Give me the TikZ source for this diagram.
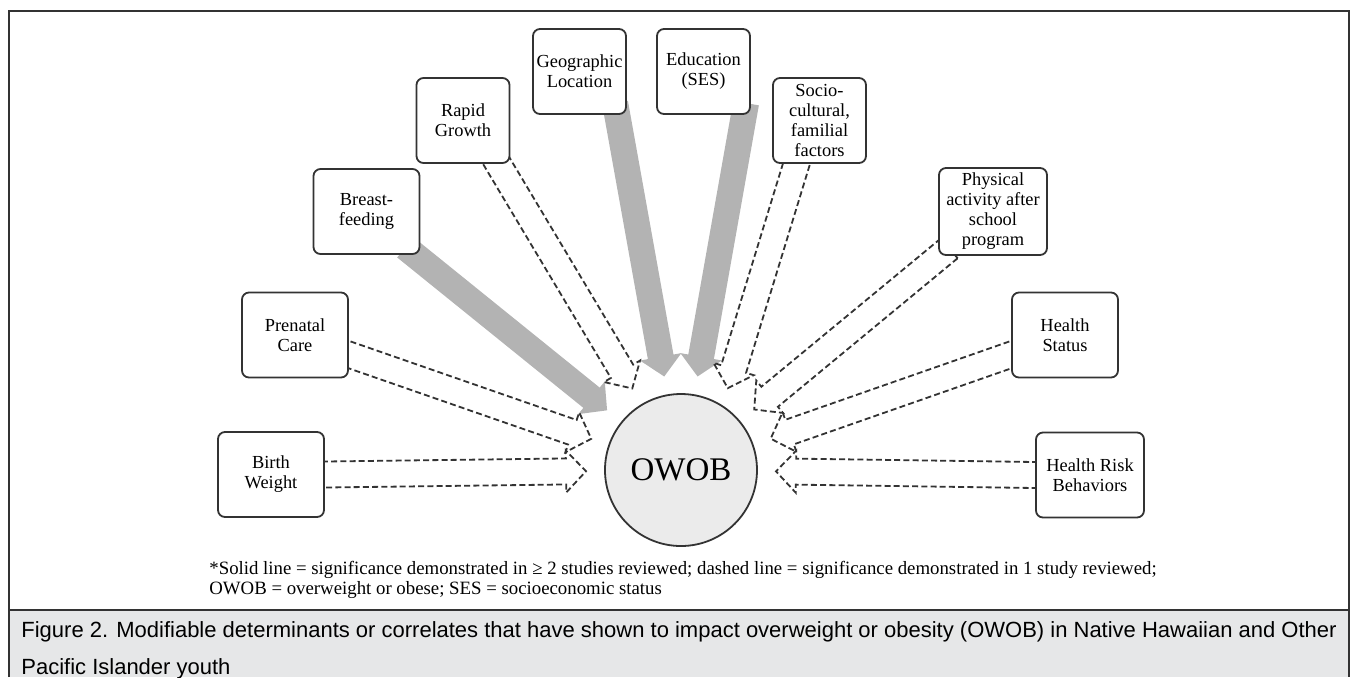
\documentclass[tikz,border=0pt]{standalone}
\usepackage{fontspec}
\setmainfont{Liberation Serif}
\newfontfamily\captionfont{Liberation Sans}
\usetikzlibrary{calc,backgrounds}
\definecolor{linegray}{HTML}{333333}
\definecolor{arrowgray}{HTML}{B3B3B3}
\definecolor{owobfill}{HTML}{EBEBEB}
\definecolor{capfill}{HTML}{E6E7E8}
\newcommand{\owobarrow}[3][dasharrow]{%
  \coordinate (s) at (#2);
  \coordinate (t) at ($(#3)!47.5pt!(s)$);
  \coordinate (o) at ($(s)!-6pt!(t)$);
  \coordinate (b) at ($(t)!10pt!(o)$);
  \path[#1] ($(o)!6.5pt!90:(t)$) -- ($(b)!6.5pt!90:(t)$) -- ($(b)!10.5pt!90:(t)$) -- (t)
    -- ($(b)!10.5pt!-90:(t)$) -- ($(b)!6.5pt!-90:(t)$) -- ($(o)!6.5pt!-90:(t)$) -- cycle;
}

\begin{document}
\begin{tikzpicture}[x=0.5pt, y=-0.5pt,
    factor/.style={draw=linegray, line width=0.9pt, rounded corners=3.5pt, fill=white, align=center,
      minimum width=53pt, minimum height=42.5pt, inner sep=1pt, font=\fontsize{9.2}{10}\selectfont},
    narrowfactor/.style={factor, minimum width=46.5pt},
    outcome/.style={circle, draw=linegray, line width=0.9pt, fill=owobfill, minimum size=76pt,
      inner sep=0pt, font=\fontsize{16.5}{18}\selectfont},
    dasharrow/.style={draw=linegray, line width=0.9pt, dash pattern=on 3pt off 1.6pt},
    solidarrow/.style={fill=arrowgray}]
  \useasboundingbox (0,0) rectangle (1351,677);
  \fill[capfill] (9,610) rectangle (1349,677);
  \draw[linegray, line width=1.2pt] (9,677) -- (9,11) -- (1349,11) -- (1349,677);
  \draw[linegray, line width=1.2pt] (9,610) -- (1349,610);

  \node[outcome] (owob) at (681,470) {OWOB};
  \node[factor] (birth) at (271,474.5) {Birth\\Weight};
  \node[factor] (prenatal) at (295,335) {Prenatal\\Care};
  \node[factor] (breast) at (366.5,211.5) {Breast-\\feeding};
  \node[narrowfactor] (rapid) at (463,120.5) {Rapid\\Growth};
  \node[narrowfactor] (geo) at (579.5,71.5) {Geographic\\Location};
  \node[narrowfactor] (edu) at (703.5,71.5) {Education\\(SES)};
  \node[narrowfactor] (socio) at (819.5,120.5) {Socio-\\cultural,\\familial\\factors};
  \node[factor, minimum width=54pt, minimum height=43.5pt] (phys) at (993,211.5) {Physical\\activity after\\school\\program};
  \node[factor] (hstatus) at (1065,335) {Health\\Status};
  \node[factor, minimum width=54pt] (hrisk) at (1090,475) {Health Risk\\Behaviors};
  \coordinate (socioaim) at (700,479);

  \begin{scope}[on background layer]
    \owobarrow[solidarrow]{breast.-42}{owob}
    \owobarrow[solidarrow]{geo.-49}{owob}
    \owobarrow[solidarrow]{edu.-47}{owob}
    \owobarrow{birth.east}{owob}
    \owobarrow{prenatal.-20}{owob}
    \owobarrow{rapid.-51}{owob}
    \owobarrow{socio.-118}{socioaim}
    \owobarrow{phys.-140}{owob}
    \owobarrow{hstatus.-160}{owob}
    \owobarrow{hrisk.west}{owob}
  \end{scope}

  \node[anchor=north west, inner sep=0pt, align=left, font=\fontsize{9.4}{10}\selectfont] (note) at (209,561)
    {*Solid line = significance demonstrated in ≥ 2 studies reviewed; dashed line = significance demonstrated in 1 study reviewed;\\
     OWOB = overweight or obese; SES = socioeconomic status};
  \node[anchor=north west, inner sep=0pt, align=left, font=\captionfont\fontsize{11}{18.5}\selectfont] (caption) at (21,621)
    {Figure 2. Modifiable determinants or correlates that have shown to impact overweight or obesity (OWOB) in Native Hawaiian and Other\\
     Pacific Islander youth};
\end{tikzpicture}
\end{document}
